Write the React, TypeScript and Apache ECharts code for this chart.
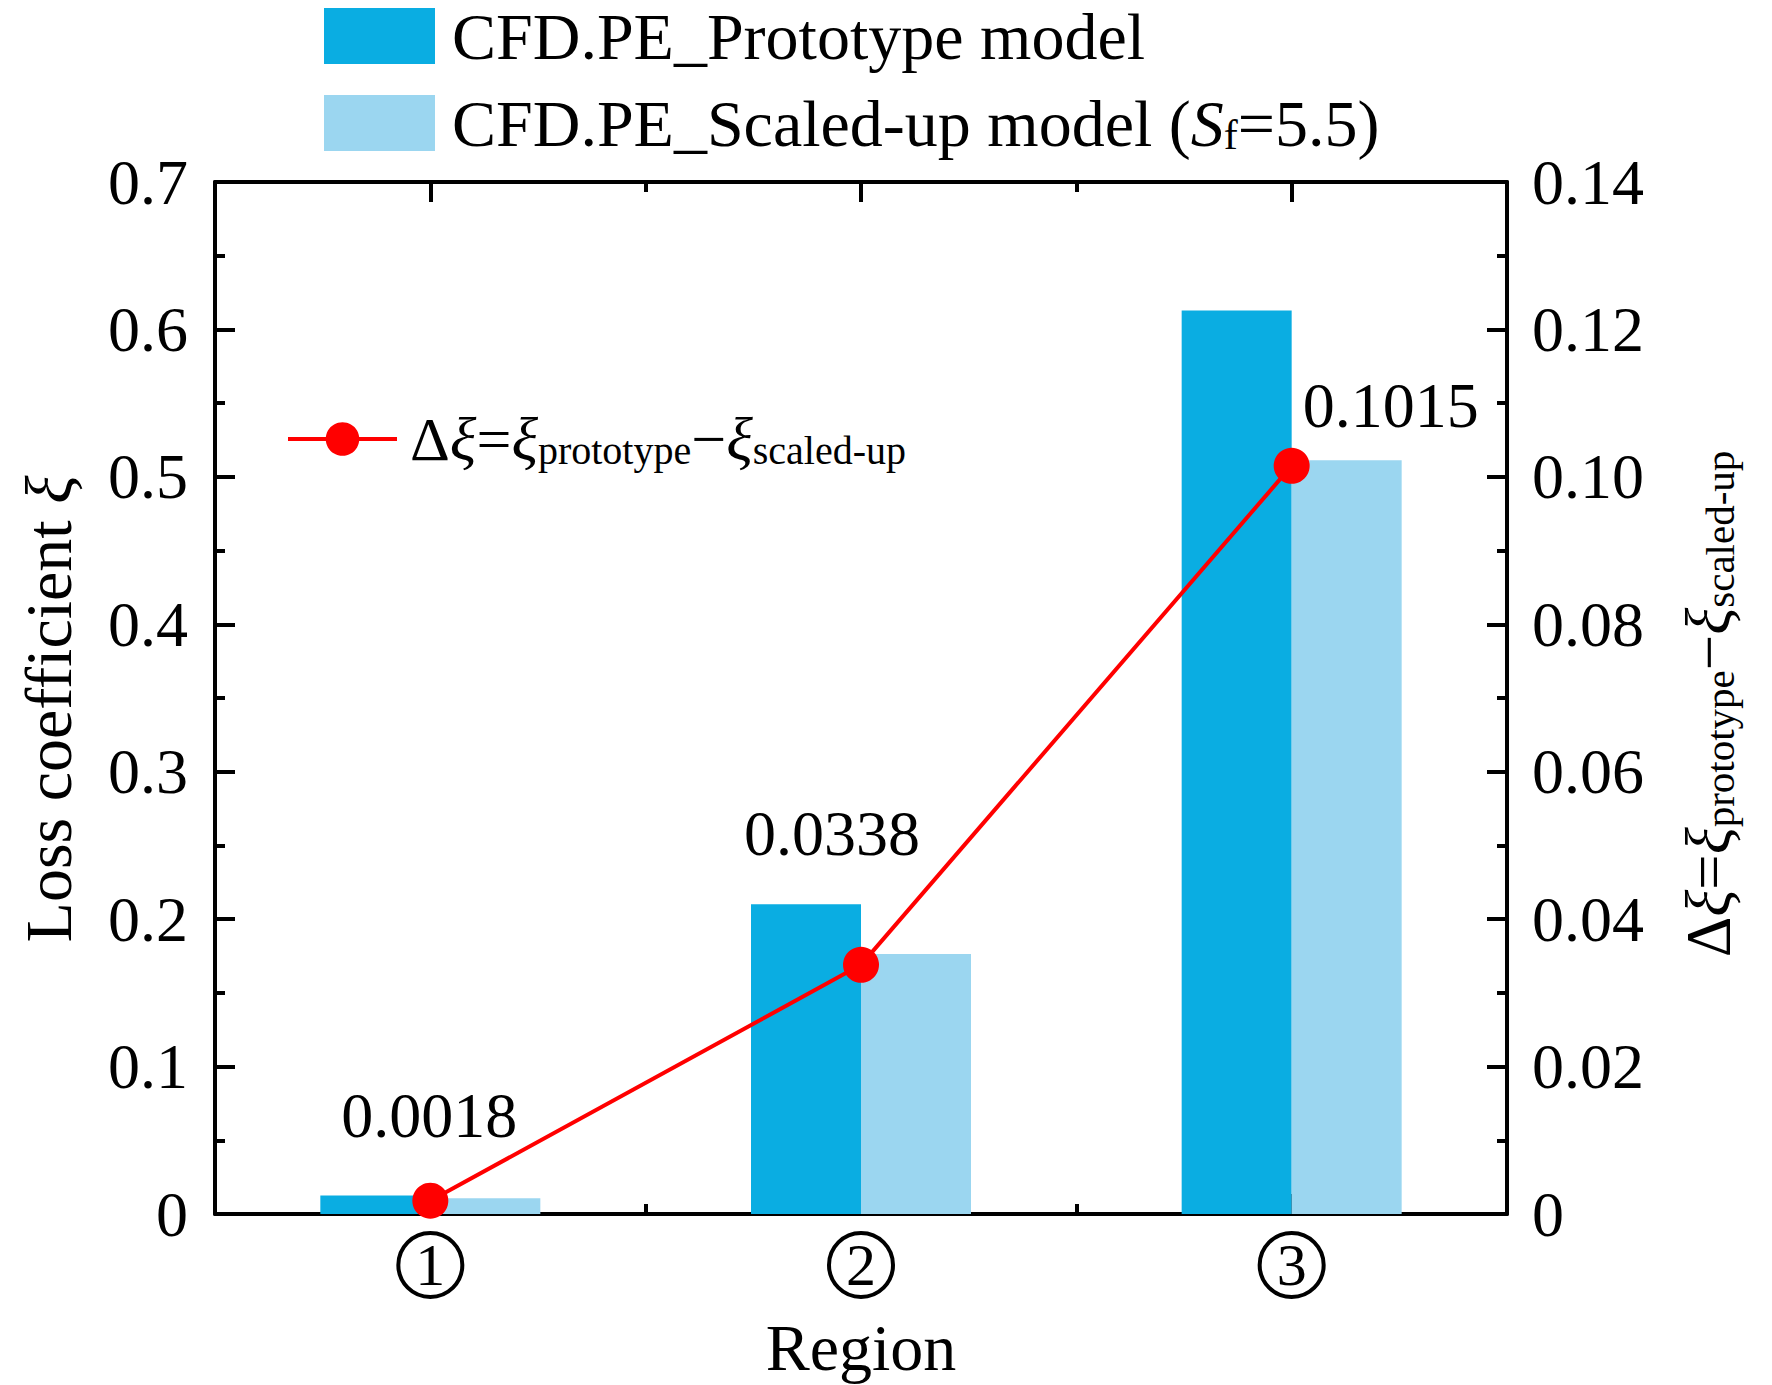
import React, { useEffect, useRef } from 'react';
import * as echarts from 'echarts';

// ---- data ----
const regions = ['1', '2', '3'];
const prototypeLoss = [0.0125, 0.2101, 0.6128];
const scaledLoss = [0.0107, 0.1763, 0.5113];
const deltaLoss = [0.0018, 0.0338, 0.1015];
const leftTickLabels = ['0', '0.1', '0.2', '0.3', '0.4', '0.5', '0.6', '0.7'];
const rightTickLabels = ['0', '0.02', '0.04', '0.06', '0.08', '0.10', '0.12', '0.14'];

const NAME_PROTO = 'CFD.PE_Prototype model';
const NAME_SCALED = 'CFD.PE_Scaled-up model (Sf=5.5)';
const NAME_DELTA = 'Δξ=ξprototype−ξscaled-up';

// ---- styles ----
const FONT = 'Liberation Serif';
const DARK = '#0aade2';
const LIGHT = '#9bd6f0';
const RED = '#ff0000';
const labelOffsets = [[-1, -85], [-29, -131], [99, -60]];

export default function App() {
  const ref = useRef<HTMLDivElement>(null);

  useEffect(() => {
    document.body.style.margin = '0';
    const chart = echarts.init(ref.current!, undefined, { renderer: 'svg' });

    const axisLine = { show: true, lineStyle: { color: '#000', width: 4 } };
    const majorTick = { show: true, inside: true, length: 20, lineStyle: { color: '#000', width: 4 } };
    const minorTick = { show: true, inside: true, length: 10, lineStyle: { color: '#000', width: 4 } };

    const deltaRich = {
      m: { fontFamily: FONT, fontSize: 63, lineHeight: 63, color: '#000' },
      mi: { fontFamily: FONT, fontSize: 63, lineHeight: 63, color: '#000', fontStyle: 'italic' },
      s: { fontFamily: FONT, fontSize: 41, lineHeight: 25, color: '#000', verticalAlign: 'bottom' },
    };
    const legendRich = {
      m: { fontFamily: FONT, fontSize: 62, lineHeight: 62, color: '#000' },
      mi: { fontFamily: FONT, fontSize: 62, lineHeight: 62, color: '#000', fontStyle: 'italic' },
      s: { fontFamily: FONT, fontSize: 40, lineHeight: 25, color: '#000', verticalAlign: 'bottom' },
    };
    const deltaText = '{m|Δ}{mi|ξ}{m|=}{mi|ξ}{s|prototype}{m|−}{mi|ξ}{s|scaled-up}';

    const option: any = {
      animation: false,
      backgroundColor: '#fff',
      textStyle: { fontFamily: FONT },
      grid: { left: 215, right: 265, top: 182, bottom: 171, containLabel: false },
      legend: [
        {
          data: [NAME_PROTO, NAME_SCALED],
          orient: 'vertical',
          left: 319,
          top: -2,
          itemWidth: 111,
          itemHeight: 56,
          itemGap: 21,
          icon: 'rect',
          selectedMode: false,
          formatter: (name: string) =>
            name === NAME_SCALED
              ? '{a|CFD.PE_Scaled-up model (}{i|S}{sub|f}{a|=5.5)}'
              : '{a|' + name + '}',
          textStyle: {
            padding: [0, 0, 0, 12],
            rich: {
              a: { fontFamily: FONT, fontSize: 66, lineHeight: 66, color: '#000' },
              i: { fontFamily: FONT, fontSize: 66, lineHeight: 66, color: '#000', fontStyle: 'italic' },
              sub: { fontFamily: FONT, fontSize: 42, lineHeight: 28, color: '#000', verticalAlign: 'bottom' },
            },
          },
        },
        {
          data: [NAME_DELTA],
          left: 281,
          top: 403,
          itemWidth: 109,
          itemHeight: 42,
          selectedMode: false,
          lineStyle: { width: 4, color: RED },
          formatter: () => deltaText,
          textStyle: {
            padding: [0, 0, 0, 8],
            rich: legendRich,
          },
        },
      ],
      xAxis: [
        {
          type: 'category',
          data: regions,
          position: 'bottom',
          boundaryGap: true,
          axisLine,
          axisTick: { ...majorTick, alignWithLabel: true },
          axisLabel: {
            margin: 19,
            formatter: (v: string) => '{c|' + v + '}',
            rich: {
              c: {
                fontFamily: FONT,
                fontSize: 60,
                color: '#000',
                width: 64,
                height: 64,
                lineHeight: 64,
                align: 'center',
                borderColor: '#000',
                borderWidth: 4,
                borderRadius: 34,
              },
            },
          },
          name: 'Region',
          nameLocation: 'middle',
          nameGap: 100,
          nameTextStyle: { fontFamily: FONT, fontSize: 66, color: '#000' },
          splitLine: { show: false },
        },
        {
          type: 'category',
          data: regions,
          position: 'bottom',
          boundaryGap: true,
          axisLine: { show: false },
          axisTick: minorTick,
          axisLabel: { show: false },
          splitLine: { show: false },
        },
        {
          type: 'category',
          data: regions,
          position: 'top',
          boundaryGap: true,
          axisLine,
          axisTick: { ...majorTick, alignWithLabel: true },
          axisLabel: { show: false },
          splitLine: { show: false },
        },
        {
          type: 'category',
          data: regions,
          position: 'top',
          boundaryGap: true,
          axisLine: { show: false },
          axisTick: minorTick,
          axisLabel: { show: false },
          splitLine: { show: false },
        },
      ],
      yAxis: [
        {
          type: 'value',
          position: 'left',
          min: 0,
          max: 0.7,
          interval: 0.1,
          axisLine,
          axisTick: majorTick,
          minorTick: { ...minorTick, splitNumber: 2 },
          splitLine: { show: false },
          minorSplitLine: { show: false },
          axisLabel: {
            margin: 27,
            fontFamily: FONT,
            fontSize: 64,
            color: '#000',
            formatter: (_v: number, i: number) => leftTickLabels[i],
          },
          name: '{a|Loss coefficient }{i|ξ}',
          nameLocation: 'middle',
          nameRotate: 90,
          nameGap: 134,
          nameTextStyle: {
            padding: [0, 22, 0, 0],
            rich: {
              a: { fontFamily: FONT, fontSize: 66, lineHeight: 66, color: '#000' },
              i: { fontFamily: FONT, fontSize: 66, lineHeight: 66, color: '#000', fontStyle: 'italic' },
            },
          },
        },
        {
          type: 'value',
          position: 'right',
          min: 0,
          max: 0.14,
          interval: 0.02,
          axisLine,
          axisTick: majorTick,
          minorTick: { ...minorTick, splitNumber: 2 },
          splitLine: { show: false },
          minorSplitLine: { show: false },
          axisLabel: {
            margin: 25,
            fontFamily: FONT,
            fontSize: 64,
            color: '#000',
            formatter: (_v: number, i: number) => rightTickLabels[i],
          },
          name: deltaText,
          nameLocation: 'middle',
          nameRotate: 90,
          nameGap: 170,
          nameTextStyle: {
            padding: [0, 12, 0, 0],
            rich: deltaRich,
          },
        },
      ],
      series: [
        {
          name: NAME_PROTO,
          type: 'bar',
          xAxisIndex: 0,
          yAxisIndex: 0,
          data: prototypeLoss,
          barWidth: 110,
          barGap: '0%',
          itemStyle: { color: DARK },
          z: 2,
        },
        {
          name: NAME_SCALED,
          type: 'bar',
          xAxisIndex: 0,
          yAxisIndex: 0,
          data: scaledLoss,
          barWidth: 110,
          barGap: '0%',
          itemStyle: { color: LIGHT },
          z: 2,
        },
        {
          name: NAME_DELTA,
          type: 'line',
          xAxisIndex: 0,
          yAxisIndex: 1,
          data: deltaLoss.map((v, i) => ({ value: v, label: { offset: labelOffsets[i] } })),
          symbol: 'circle',
          symbolSize: 36,
          itemStyle: { color: RED },
          lineStyle: { color: RED, width: 4 },
          z: 5,
          label: {
            show: true,
            position: 'inside',
            fontFamily: FONT,
            fontSize: 64,
            color: '#000',
            formatter: (p: any) => deltaLoss[p.dataIndex].toFixed(4),
          },
        },
      ],
    };

    chart.setOption(option);
    return () => chart.dispose();
  }, []);

  return <div ref={ref} style={{ width: 1772, height: 1385 }} />;
}
